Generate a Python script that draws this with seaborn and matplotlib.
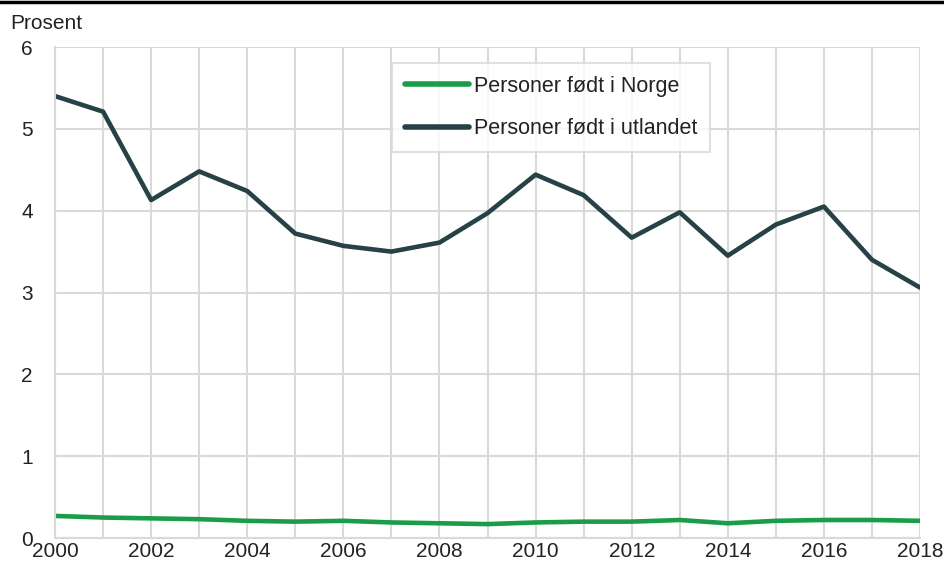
import numpy as np
import pandas as pd
import matplotlib
matplotlib.use("Agg")
import matplotlib.pyplot as plt
import seaborn as sns
from matplotlib.lines import Line2D

# Data
years = list(range(2000, 2019))
norge = [0.27, 0.25, 0.24, 0.23, 0.21, 0.20, 0.21, 0.19, 0.18, 0.17,
         0.19, 0.20, 0.20, 0.22, 0.18, 0.21, 0.22, 0.22, 0.21]
utlandet = [5.40, 5.21, 4.13, 4.48, 4.24, 3.72, 3.57, 3.50, 3.61, 3.97,
            4.44, 4.19, 3.67, 3.98, 3.45, 3.83, 4.05, 3.40, 3.06]
series_names = ["Personer født i Norge", "Personer født i utlandet"]
colors = ["#1a9d49", "#274247"]

df = pd.DataFrame({"År": years, series_names[0]: norge, series_names[1]: utlandet})
df_long = df.melt(id_vars="År", var_name="Gruppe", value_name="Prosent")

sns.set_style("white")
plt.rcParams["font.family"] = ["Liberation Sans", "DejaVu Sans"]

fig = plt.figure(figsize=(9.44, 5.63), dpi=100)
ax = fig.add_axes([0.0583, 0.0444, 0.9163, 0.8721])

sns.lineplot(data=df_long, x="År", y="Prosent", hue="Gruppe",
             palette=dict(zip(series_names, colors)), linewidth=3.3, ax=ax,
             solid_capstyle="round")

ax.set_xlim(2000, 2018)
ax.set_ylim(0, 6)
ax.set_xticks(range(2000, 2019, 2))
ax.set_xticks(range(2000, 2019), minor=True)
ax.set_yticks(range(0, 7))
ax.grid(True, which="both", color="#d9d9d9", linewidth=1.5)
ax.set_axisbelow(True)
for side in ["top", "right"]:
    ax.spines[side].set_visible(False)
for side in ["left", "bottom"]:
    ax.spines[side].set_color("#d9d9d9")
    ax.spines[side].set_linewidth(1.5)
ax.tick_params(which="both", length=0, labelsize=15, colors="#222222")
ax.tick_params(axis="x", pad=3)
ax.tick_params(axis="y", pad=16)
ax.set_xlabel("")
ax.set_ylabel("")

fig.text(0.011, 0.958, "Prosent", fontsize=15, color="#222222", va="center")

leg = ax.legend(loc="upper left", bbox_to_anchor=(0.390, 0.968), frameon=True,
                fancybox=False, edgecolor="#d9d9d9", fontsize=15.5,
                handlelength=2.95, handletextpad=0.25, labelspacing=1.0,
                borderpad=0.6, borderaxespad=0, title=None)
leg.get_frame().set_linewidth(1.5)
for t in leg.get_texts():
    t.set_color("#222222")
for h in leg.get_lines():
    h.set_linewidth(4)

fig.add_artist(Line2D([0, 1], [0.997, 0.997], color="black", linewidth=2.5,
                      transform=fig.transFigure))

fig.savefig("out.png", dpi=100)
